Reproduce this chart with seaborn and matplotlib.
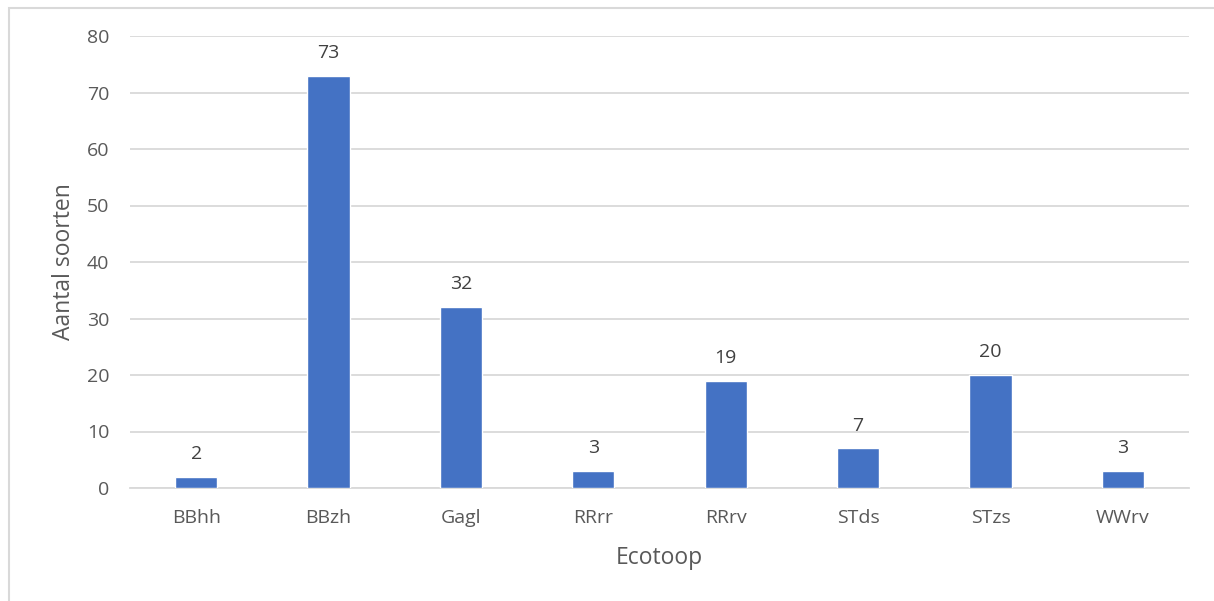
import matplotlib
matplotlib.use("Agg")
import matplotlib.pyplot as plt
import seaborn as sns
import pandas as pd
from matplotlib.patches import Rectangle

categories = ["BBhh", "BBzh", "Gagl", "RRrr", "RRrv", "STds", "STzs", "WWrv"]
counts = [2, 73, 32, 3, 19, 7, 20, 3]
y_ticks = [0, 10, 20, 30, 40, 50, 60, 70, 80]

df = pd.DataFrame({"Ecotoop": categories, "Aantal soorten": counts})

sns.set_theme(style="white")
plt.rcParams["font.family"] = ["Open Sans", "DejaVu Sans"]

fig = plt.figure(figsize=(12.14, 6.01), dpi=100)
ax = fig.add_axes([130 / 1214, 1 - 488 / 601, 1059 / 1214, (488 - 36) / 601])

# light frame around the chart area
fig.patches.append(Rectangle((8.5 / 1214, -0.1), 1.2, 1 - 7.5 / 601 + 0.1,
                             transform=fig.transFigure, fill=False,
                             edgecolor="#D9D9D9", linewidth=1.5))

sns.barplot(data=df, x="Ecotoop", y="Aantal soorten", color="#4472C4",
            saturation=1, width=0.32, ax=ax, zorder=3)

ax.set_ylim(0, 80)
ax.set_xlim(-0.5, len(categories) - 0.5)
ax.set_yticks(y_ticks)
ax.yaxis.grid(True, color="#D9D9D9", linewidth=1.3)
ax.set_axisbelow(True)
for s in ["top", "right", "left"]:
    ax.spines[s].set_visible(False)
ax.spines["bottom"].set_color("#D9D9D9")
ax.spines["bottom"].set_linewidth(1.3)
ax.tick_params(axis="both", length=0, labelsize=14, colors="#595959", pad=15)

for i, v in enumerate(counts):
    ax.annotate(str(v), (i, v), xytext=(0, 10), textcoords="offset points",
                ha="center", va="bottom", fontsize=14, color="#404040")

ax.set_xlabel("Ecotoop", fontsize=16.5, color="#595959", labelpad=14)
ax.set_ylabel("Aantal soorten", fontsize=16.5, color="#595959", labelpad=8)

fig.savefig("out.png", dpi=100)
